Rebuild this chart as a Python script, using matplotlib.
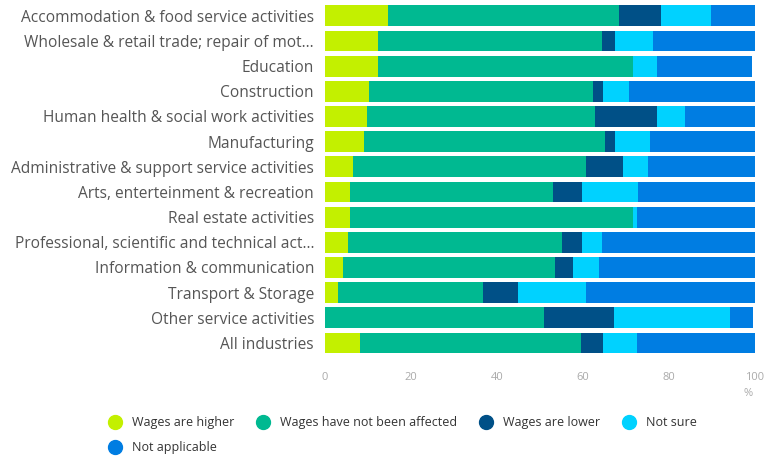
import matplotlib.pyplot as plt
from matplotlib.lines import Line2D

plt.rcParams['font.family'] = ['Open Sans', 'DejaVu Sans']

CATEGORIES = [
    'Accommodation & food service activities',
    'Wholesale & retail trade; repair of mot…',
    'Education',
    'Construction',
    'Human health & social work activities',
    'Manufacturing',
    'Administrative & support service activities',
    'Arts, enterteinment & recreation',
    'Real estate activities',
    'Professional, scientific and technical act…',
    'Information & communication',
    'Transport & Storage',
    'Other service activities',
    'All industries',
]

SERIES = [
    'Wages are higher',
    'Wages have not been affected',
    'Wages are lower',
    'Not sure',
    'Not applicable',
]

higher = [14.7, 12.2, 12.2, 10.2, 9.8, 9.1, 6.4, 5.9, 5.7, 5.4, 4.2, 2.9, 0.0, 8.2]
not_affected = [53.7, 52.1, 59.4, 52.1, 53.0, 56.0, 54.2, 47.2, 65.9, 49.6, 49.3, 33.8, 50.8, 51.2]
lower = [9.8, 3.2, 0.0, 2.3, 14.5, 2.4, 8.6, 6.6, 0.0, 4.7, 4.2, 8.1, 16.4, 5.2]
not_sure = [11.5, 8.7, 5.6, 6.0, 6.3, 8.1, 5.9, 13.1, 1.0, 4.6, 6.1, 15.8, 26.9, 7.9]
not_applicable = [10.3, 23.8, 22.0, 29.4, 16.4, 24.4, 24.9, 27.2, 27.4, 35.7, 36.2, 39.4, 5.4, 27.5]

COLORS = ['#c3f000', '#00b991', '#005087', '#00d2ff', '#007de2']

TICKS = [0, 20, 40, 60, 80, 100]


def main():
    fig = plt.figure(figsize=(7.65, 4.57), dpi=100)
    ax = fig.add_axes([0.425, 0.222, 0.562, 0.771])

    rows = range(len(CATEGORIES))
    left = [0.0] * len(CATEGORIES)
    for values, color in zip([higher, not_affected, lower, not_sure, not_applicable], COLORS):
        ax.barh(rows, values, left=left, height=0.83, color=color, linewidth=0)
        left = [a + b for a, b in zip(left, values)]

    ax.set_ylim(len(CATEGORIES) - 0.5, -0.5)
    ax.set_xlim(0, 100)
    ax.set_yticks(list(rows))
    ax.set_yticklabels(CATEGORIES, fontsize=11.2, color='#555555')
    ax.set_xticks(TICKS)
    ax.set_xticklabels([str(t) for t in TICKS], fontsize=8, color='#aaaaaa')
    ax.tick_params(axis='both', length=0)
    ax.tick_params(axis='y', pad=8)
    ax.tick_params(axis='x', pad=12)
    for spine in ax.spines.values():
        spine.set_visible(False)

    fig.text(0.978, 0.14, '%', fontsize=8, color='#aaaaaa', ha='center', va='center')

    handles = [Line2D([], [], marker='o', linestyle='', markersize=10,
                      markerfacecolor=c, markeredgecolor=c) for c in COLORS]
    # column-major fill: put "Not applicable" under the first entry
    order = [0, 4, 1, 2, 3]
    fig.legend([handles[i] for i in order], [SERIES[i] for i in order],
               loc='upper left', bbox_to_anchor=(0.126, 0.103), ncol=4,
               frameon=False, fontsize=9, handletextpad=0.35,
               columnspacing=1.3, labelspacing=0.95, borderpad=0,
               labelcolor='#333333')

    fig.savefig('out.png', dpi=100)


if __name__ == '__main__':
    main()
